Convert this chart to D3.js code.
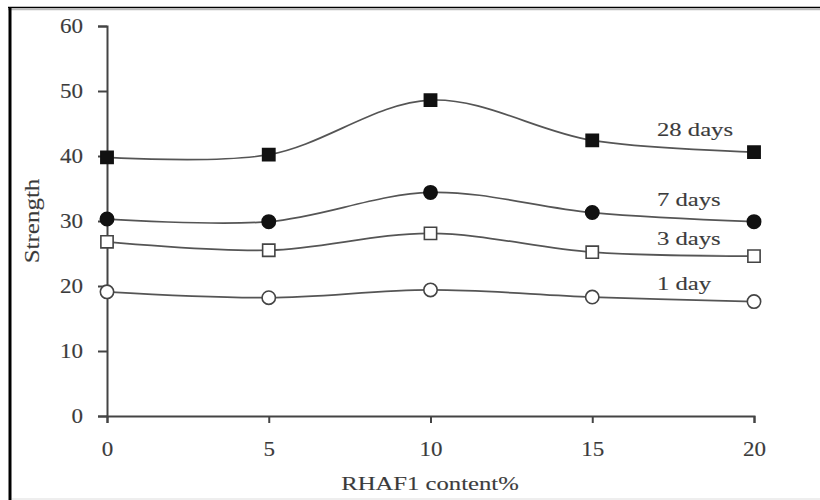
<!DOCTYPE html>
<html>
<head>
<meta charset="utf-8">
<script src="https://d3js.org/d3.v7.min.js"></script>
<style>
body { margin: 0; background: #fff; }
svg text { font-family: "Liberation Serif", "Times New Roman", serif; fill: #3a3a3a; stroke: #555; stroke-width: 0.15px; }
</style>
</head>
<body>
<svg id="chart" width="820" height="500"></svg>
<script>
// data
var content = [0, 5, 10, 15, 20];
var day28 = [39.8, 40.2, 48.6, 42.4, 40.6];
var day7 = [30.3, 29.9, 34.4, 31.3, 29.9];
var day3 = [26.8, 25.5, 28.1, 25.2, 24.6];
var day1 = [19.1, 18.2, 19.4, 18.3, 17.6];
var xTicks = [0, 5, 10, 15, 20];
var yTicks = [0, 10, 20, 30, 40, 50, 60];
// label anchors in data units
var labelNames = ["28 days", "7 days", "3 days", "1 day"];
var labelX = [17.0, 17.0, 17.0, 17.0];
var labelY = [43.1, 32.3, 26.3, 19.4];

var svg = d3.select("#chart");

// frame around the figure
svg.append("rect").attr("x", 0).attr("y", 0).attr("width", 820).attr("height", 500).attr("fill", "#fff");
svg.append("line").attr("x1", 8).attr("x2", 820).attr("y1", 7.5).attr("y2", 7.5)
  .attr("stroke", "#000").attr("stroke-width", 1.6);
svg.append("line").attr("x1", 8).attr("x2", 820).attr("y1", 9.5).attr("y2", 9.5)
  .attr("stroke", "#bbb").attr("stroke-width", 1.5);
svg.append("line").attr("x1", 10).attr("x2", 10).attr("y1", 7).attr("y2", 500)
  .attr("stroke", "#000").attr("stroke-width", 3);
svg.append("line").attr("x1", 12).attr("x2", 820).attr("y1", 499).attr("y2", 499)
  .attr("stroke", "#ddd").attr("stroke-width", 1);

var x = d3.scaleLinear().domain([0, 20]).range([107, 754]);
var y = d3.scaleLinear().domain([0, 60]).range([416, 26]);

// axes
var gx = svg.append("g").attr("transform", "translate(0,416)")
  .call(d3.axisBottom(x).tickValues(xTicks).tickSize(7).tickSizeOuter(7));
var gy = svg.append("g").attr("transform", "translate(107,0)")
  .call(d3.axisLeft(y).tickValues(yTicks).tickSize(9).tickSizeOuter(9));

[gx, gy].forEach(function(g) {
  g.select(".domain").attr("stroke", "#444").attr("stroke-width", 2);
  g.selectAll(".tick line").attr("stroke", "#444").attr("stroke-width", 2);
});
gx.selectAll(".tick text")
  .attr("y", 0).attr("dy", 0)
  .attr("transform", "translate(0,40) scale(1.15,1)")
  .style("font-size", "20px");
gy.selectAll(".tick text")
  .attr("x", 0)
  .attr("transform", "translate(-24,0) scale(1.15,1)")
  .style("font-size", "20px");

// axis titles
svg.append("text")
  .attr("text-anchor", "middle")
  .attr("transform", "translate(430,490) scale(1.3,1)")
  .style("font-size", "19px")
  .text("RHAF1 content%");
svg.append("text")
  .attr("text-anchor", "middle")
  .attr("transform", "translate(39,221) rotate(-90) scale(1.25,1)")
  .style("font-size", "20px")
  .text("Strength");

// series
var series = [
  { vals: day28, shape: "square", fill: "#111" },
  { vals: day7, shape: "circle", fill: "#111" },
  { vals: day3, shape: "square", fill: "#fff" },
  { vals: day1, shape: "circle", fill: "#fff" }
];

var line = d3.line()
  .x(function(d) { return x(d[0]); })
  .y(function(d) { return y(d[1]); })
  .curve(d3.curveCatmullRom.alpha(0.5));

series.forEach(function(s) {
  var pts = content.map(function(c, i) { return [c, s.vals[i]]; });
  svg.append("path")
    .datum(pts)
    .attr("d", line)
    .attr("fill", "none")
    .attr("stroke", "#555")
    .attr("stroke-width", 1.7);

  var sym = d3.symbol()
    .type(s.shape == "square" ? d3.symbolSquare : d3.symbolCircle)
    .size(s.shape == "square" ? 150 : 140);

  svg.selectAll(null)
    .data(pts)
    .enter().append("path")
    .attr("d", sym)
    .attr("transform", function(d) { return "translate(" + x(d[0]) + "," + y(d[1]) + ")"; })
    .attr("fill", s.fill)
    .attr("stroke", s.fill == "#fff" ? "#444" : "#111")
    .attr("stroke-width", 1.6);
});

// series labels
labelNames.forEach(function(name, i) {
  svg.append("text")
    .attr("transform", "translate(" + x(labelX[i]) + "," + y(labelY[i]) + ") scale(1.3,1)")
    .style("font-size", "19px")
    .text(name);
});
</script>
</body>
</html>
